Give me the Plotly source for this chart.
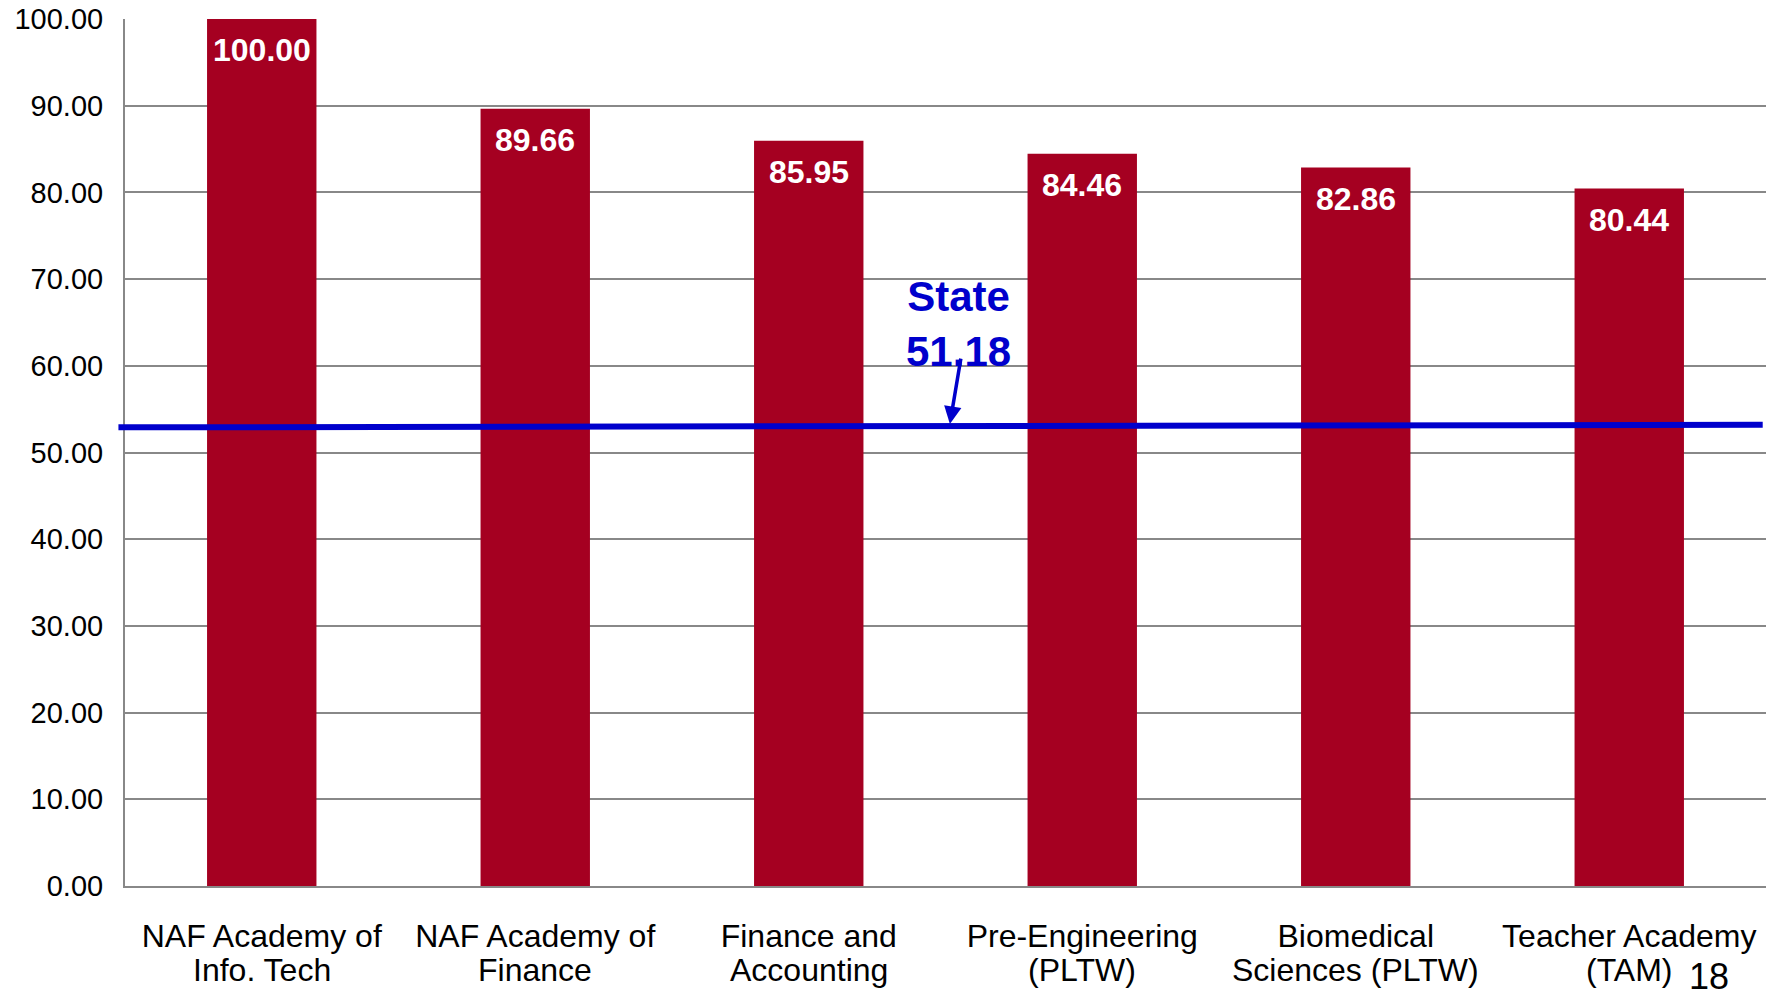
import plotly.graph_objects as go

categories = ["NAF Academy of<br>Info. Tech", "NAF Academy of<br>Finance", "Finance and<br>Accounting",
              "Pre-Engineering<br>(PLTW)", "Biomedical<br>Sciences (PLTW)", "Teacher Academy<br>(TAM)"]
values = [100.00, 89.66, 85.95, 84.46, 82.86, 80.44]
labels = ["100.00", "89.66", "85.95", "84.46", "82.86", "80.44"]
y_ticks = [0, 10, 20, 30, 40, 50, 60, 70, 80, 90, 100]

state_value = 51.18
state_line = [52.9, 53.2]   # where the line is drawn in the picture (left, right)
arrow_tail = [2.557, 61.0]
arrow_head = [2.516, 53.3]
page_number = "18"

font = "Liberation Sans, Arial, sans-serif"
bar_color = "#A50021"
blue = "#0000CC"

first_lines = [c.split("<br>")[0] for c in categories]
second_lines = [c.split("<br>")[1] for c in categories]

fig = go.Figure()

fig.add_trace(go.Bar(
    x=list(range(len(categories))),
    y=values,
    marker=dict(color=bar_color, line=dict(width=0)),
    width=0.4,
    hoverinfo="skip",
))

# value labels inside bars
for i, (v, t) in enumerate(zip(values, labels)):
    fig.add_annotation(x=i, y=v, text="<b>" + t + "</b>", showarrow=False,
                       yanchor="middle", yshift=-31,
                       font=dict(family=font, size=32, color="white"))

# second line of category labels (tighter line spacing than plotly's <br>)
for i, t in enumerate(second_lines):
    fig.add_annotation(x=i, xref="x", yref="paper", y=(886 - 970) / 867, text=t,
                       showarrow=False, xanchor="center", yanchor="middle",
                       font=dict(family=font, size=32, color="black"))

# state line
fig.add_shape(type="line", xref="paper", yref="y",
              x0=-0.004, x1=0.998, y0=state_line[0], y1=state_line[1],
              line=dict(color=blue, width=6))

fig.add_annotation(x=arrow_head[0], y=arrow_head[1], ax=arrow_tail[0], ay=arrow_tail[1],
                   axref="x", ayref="y", xref="x", yref="y", text="",
                   showarrow=True, arrowhead=2, arrowsize=1, arrowwidth=3.5, arrowcolor=blue)

fig.add_annotation(x=2.546, y=64.8, text="<b>State<br>%.2f</b>" % state_value, showarrow=False,
                   font=dict(family=font, size=42, color=blue), yanchor="middle")

# slide page number
fig.add_annotation(xref="paper", yref="paper", x=(1709 - 125) / 1641, y=(886 - 976) / 867,
                   xanchor="center", yanchor="middle",
                   text=page_number, showarrow=False,
                   font=dict(family=font, size=36, color="black"))

fig.update_layout(
    width=1775, height=990,
    margin=dict(l=125, r=9, t=19, b=104, autoexpand=False),
    plot_bgcolor="white", paper_bgcolor="white",
    showlegend=False,
    xaxis=dict(
        tickvals=list(range(len(categories))),
        ticktext=first_lines,
        range=[-0.5, 5.5],
        showgrid=False,
        showline=True, linecolor="#888888", linewidth=2,
        ticks="",
        tickfont=dict(family=font, size=32, color="black"),
        ticklabelstandoff=21,
        automargin=False,
    ),
    yaxis=dict(
        range=[0, 100],
        tickvals=y_ticks,
        tickformat=".2f",
        showgrid=True, gridcolor="#888888", gridwidth=1.5,
        showline=True, linecolor="#888888", linewidth=2,
        zeroline=False,
        ticks="",
        tickfont=dict(family=font, size=29, color="black"),
        ticklabelstandoff=14,
        automargin=False,
    ),
)

fig.write_html("out.html", config={"displayModeBar": False},
               post_script="document.body.style.margin='0';document.body.style.overflow='hidden';")
